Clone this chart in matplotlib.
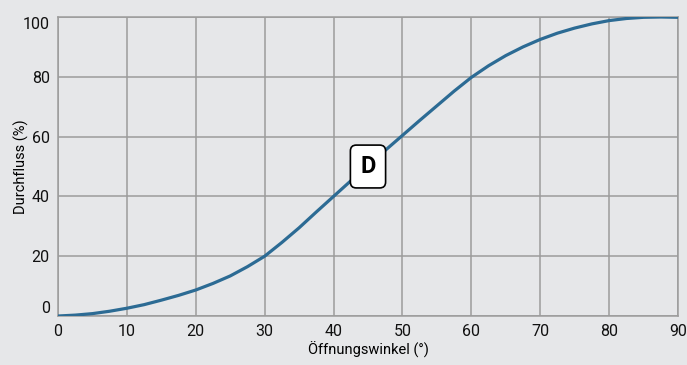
import matplotlib.pyplot as plt

plt.rcParams['font.family'] = ['Roboto', 'DejaVu Sans']

# --- Data ---
angle = [0, 2.5, 5, 7.5, 10, 12.5, 15, 17.5, 20, 22.5, 25, 27.5, 30, 32.5, 35, 37.5,
         40, 42.5, 45, 47.5, 50, 52.5, 55, 57.5, 60, 62.5, 65, 67.5, 70, 72.5, 75,
         77.5, 80, 82.5, 85, 87.5, 90]
flow  = [0, 0.3, 0.8, 1.6, 2.6, 3.8, 5.3, 6.9, 8.7, 10.9, 13.4, 16.5, 20, 24.6, 29.5, 34.8,
         40, 45.2, 50.3, 55.4, 60.4, 65.4, 70.3, 75.2, 79.8, 83.7, 87.1, 90, 92.5, 94.6, 96.3,
         97.7, 98.8, 99.5, 99.9, 100, 99.9]

BG = "#e6e7e9"
GRID = "#9c9c9c"
LINE = "#2c6b94"

fig = plt.figure(figsize=(6.87, 3.65), dpi=100, facecolor=BG)
ax = fig.add_axes([0.0844, 0.1342, 0.9025, 0.8192], facecolor=BG)

ax.plot(angle, flow, color=LINE, linewidth=2.3, solid_capstyle="round", solid_joinstyle="round", zorder=3)

ax.set_xlim(0, 90)
ax.set_ylim(0, 100)
ax.set_xticks(range(0, 91, 10))
ax.set_yticks(range(0, 101, 20))
ax.grid(True, color=GRID, linewidth=1.1)
for s in ax.spines.values():
    s.set_color(GRID)
    s.set_linewidth(1.1)
ax.tick_params(length=0, labelsize=11.5, colors="#111111", pad=6)

# end labels sit inside the plot area, as in the reference
ylabels = ax.get_yticklabels()
ylabels[0].set_va("bottom")
ylabels[-1].set_va("top")

ax.set_xlabel("Öffnungswinkel (°)", fontsize=10.5, labelpad=2)
ax.set_ylabel("Durchfluss (%)", fontsize=10.5)
ax.yaxis.set_label_coords(-0.047, 0.5)

ax.text(45, 50, "D", fontsize=17, fontweight="bold", ha="center", va="center", zorder=5,
        bbox=dict(boxstyle="round,pad=0.42,rounding_size=0.25", facecolor="white", edgecolor="black", linewidth=1.2))

plt.savefig("out.png", dpi=100, facecolor=BG)
